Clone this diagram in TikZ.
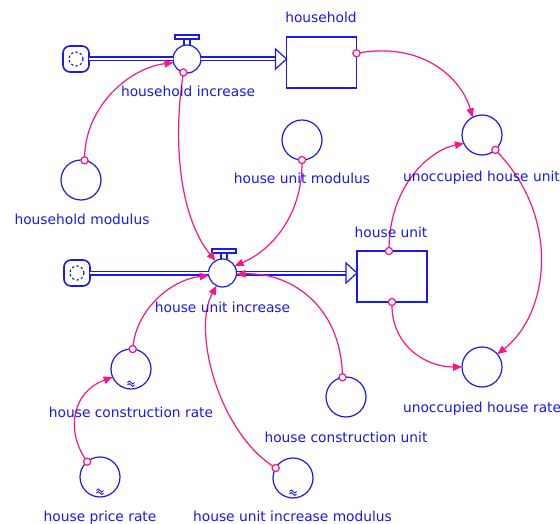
\documentclass[tikz,border=0pt]{standalone}
\usepackage{fontspec}
\setmainfont{DejaVu Sans}
\usetikzlibrary{arrows.meta,calc}
\definecolor{sdblue}{RGB}{25,25,240}
\definecolor{sdpink}{RGB}{255,20,130}
\begin{document}
\begin{tikzpicture}[x=1pt,y=-1pt,
  every node/.style={inner sep=0pt, outer sep=0pt},
  lbl/.style={text=sdblue, font=\fontsize{13.8}{16}\selectfont, text height=10.5pt, text depth=0pt},
  aux/.style={circle, draw=sdblue, line width=1.2pt, minimum size=40pt},
  stock/.style={rectangle, draw=sdblue, line width=1.2pt, minimum width=70pt, minimum height=51pt},
  valve/.style={circle, draw=sdblue, line width=1.2pt, minimum size=28pt},
  source/.style={rectangle, rounded corners=7pt, draw=sdblue, line width=1.6pt, minimum size=26pt},
  pipe/.style={draw=sdblue, line width=1.2pt, double=white, double distance=2.6pt},
  pipehead/.style={draw=sdblue, line width=1.2pt, fill=white},
  handle/.style={draw=sdblue, line width=1.1pt},
  link/.style={draw=sdpink, line width=1.2pt, -{Triangle[length=9pt,width=7.5pt]}},
  pin/.style={circle, draw=sdpink, line width=1.1pt, fill=white, minimum size=7pt},
  lookup/.style={draw=sdblue, line width=0.9pt}
]
\useasboundingbox (0,0) rectangle (560,524);

% ---- stocks, flows and sources ----
\node[source] (cloudA) at (76,59) {};
\node[valve]  (valveA) at (187,59) {};
\node[stock]  (stockA) at (321.5,62.5) {};
\node[source] (cloudB) at (77,273) {};
\node[valve]  (valveB) at (222.5,273) {};
\node[stock]  (stockB) at (392,276.5) {};

% source cloud interiors
\foreach \c in {cloudA,cloudB}
  \draw[sdblue, line width=1.2pt, dash pattern=on 2.2pt off 2.4pt] (\c) circle[radius=7];

% valve handles
\foreach \v/\dx in {valveA/0,valveB/1.5}{
  \draw[handle] ($(\v.north)+(-3+\dx,0)$) -- ++(0,-6) ($(\v.north)+(3+\dx,0)$) -- ++(0,-6);
  \draw[handle] ($(\v.north)+(-12+\dx,-6)$) rectangle ($(\v.north)+(12+\dx,-10)$);
}

% flow pipes
\coordinate (tipA) at (valveA -| stockA.west);
\coordinate (tipB) at (valveB -| stockB.west);
\draw[pipe] (cloudA.east) -- (valveA.west);
\draw[pipe] (valveA.east) -- ($(tipA)+(-10,0)$);
\draw[pipehead] ($(tipA)+(-11,-10)$) -- (tipA) -- ($(tipA)+(-11,10)$) -- cycle;
\draw[pipe] (cloudB.east) -- (valveB.west);
\draw[pipe] (valveB.east) -- ($(tipB)+(-10,0)$);
\draw[pipehead] ($(tipB)+(-11,-10)$) -- (tipB) -- ($(tipB)+(-11,10)$) -- cycle;

% ---- auxiliaries ----
\node[aux] (auxUHU)  at (482,135) {};
\node[aux] (auxUHR)  at (482,367) {};
\node[aux] (auxHM)   at (81,180) {};
\node[aux] (auxHUM)  at (302,140) {};
\node[aux] (auxHCR)  at (131,369) {};
\node[aux] (auxHPR)  at (100,477) {};
\node[aux] (auxHUIM) at (293,478) {};
\node[aux] (auxHCU)  at (346,397) {};

% lookup (graph function) markers near the bottom of the circle
\foreach \a in {auxHCR,auxHPR,auxHUIM}{
  \draw[lookup] ($(\a.south)+(-3.5,-4)$) sin ++(1.75,-1.5) cos ++(1.75,1.5)
                sin ++(1.75,1.5) cos ++(1.75,-1.5);
  \draw[lookup] ($(\a.south)+(-3.5,-6.5)$) sin ++(1.75,-1.5) cos ++(1.75,1.5)
                sin ++(1.75,1.5) cos ++(1.75,-1.5);
}

% ---- link pins ----
\node[pin] (pinA1)   at (valveA.255) {};
\node[pin] (pinHH)   at ($(stockA.north east)!0.32!(stockA.south east)$) {};
\node[pin] (pinUHU)  at (auxUHU.-48) {};
\node[pin] (pinHU)   at ($(stockB.north)+(-3,0)$) {};
\node[pin] (pinHU2)  at (stockB.south) {};
\node[pin] (pinHM)   at (auxHM.80) {};
\node[pin] (pinHUM)  at (auxHUM.south) {};
\node[pin] (pinHCR)  at (auxHCR.85) {};
\node[pin] (pinHPR)  at (auxHPR.130) {};
\node[pin] (pinHUIM) at (auxHUIM.150) {};
\node[pin] (pinHCU)  at (auxHCU.100) {};

% ---- information links ----
\draw[link] (pinHM) .. controls (86,105) and (130,68) .. (valveA.195);
\draw[link] (pinA1) .. controls (172,150) and (182,220) .. (valveB.120);
\draw[link] (pinHUM) .. controls (302,215) and (272,250) .. (valveB.30);
\draw[link] (pinHCR) .. controls (137,310) and (170,280) .. (valveB.190);
\draw[link] (pinHUIM) .. controls (218,430) and (192,330) .. (valveB.245);
\draw[link] (pinHCU) .. controls (340,305) and (290,272) .. (valveB.355);
\draw[link] (pinHPR) .. controls (66,430) and (72,392) .. (auxHCR.204);
\draw[link] (pinHH) .. controls (425,42) and (462,80) .. (auxUHU.118);
\draw[link] (pinHU) .. controls (390,185) and (430,150) .. (auxUHU.205);
\draw[link] (pinHU2) .. controls (392,345) and (425,367) .. (auxUHR.180);
\draw[link] (pinUHU) .. controls (562,220) and (548,315) .. (auxUHR.40);

% pins on top of the link ends
\foreach \p in {pinA1,pinHH,pinUHU,pinHU,pinHU2,pinHM,pinHUM,pinHCR,pinHPR,pinHUIM,pinHCU}
  \node[pin] at (\p) {};

% ---- labels ----
\node[lbl] (lHH)   at (321,17)  {household};
\node[lbl] (lHI)   at (188,91)  {household increase};
\node[lbl, anchor=west] (lUHU) at (403,176) {unoccupied house unit};
\node[lbl] (lHU)   at (391,232) {house unit};
\node[lbl, anchor=west] (lUHR) at (403,407) {unoccupied house rate};
\node[lbl] (lHM)   at (82,219)  {household modulus};
\node[lbl] (lHUM)  at (302,178) {house unit modulus};
\node[lbl] (lHUI)  at (222.5,307) {house unit increase};
\node[lbl] (lHCR)  at (131,412) {house construction rate};
\node[lbl] (lHCU)  at (346,437) {house construction unit};
\node[lbl] (lHPR)  at (100,516) {house price rate};
\node[lbl] (lHUIM) at (292.5,516) {house unit increase modulus};
\end{tikzpicture}
\end{document}
